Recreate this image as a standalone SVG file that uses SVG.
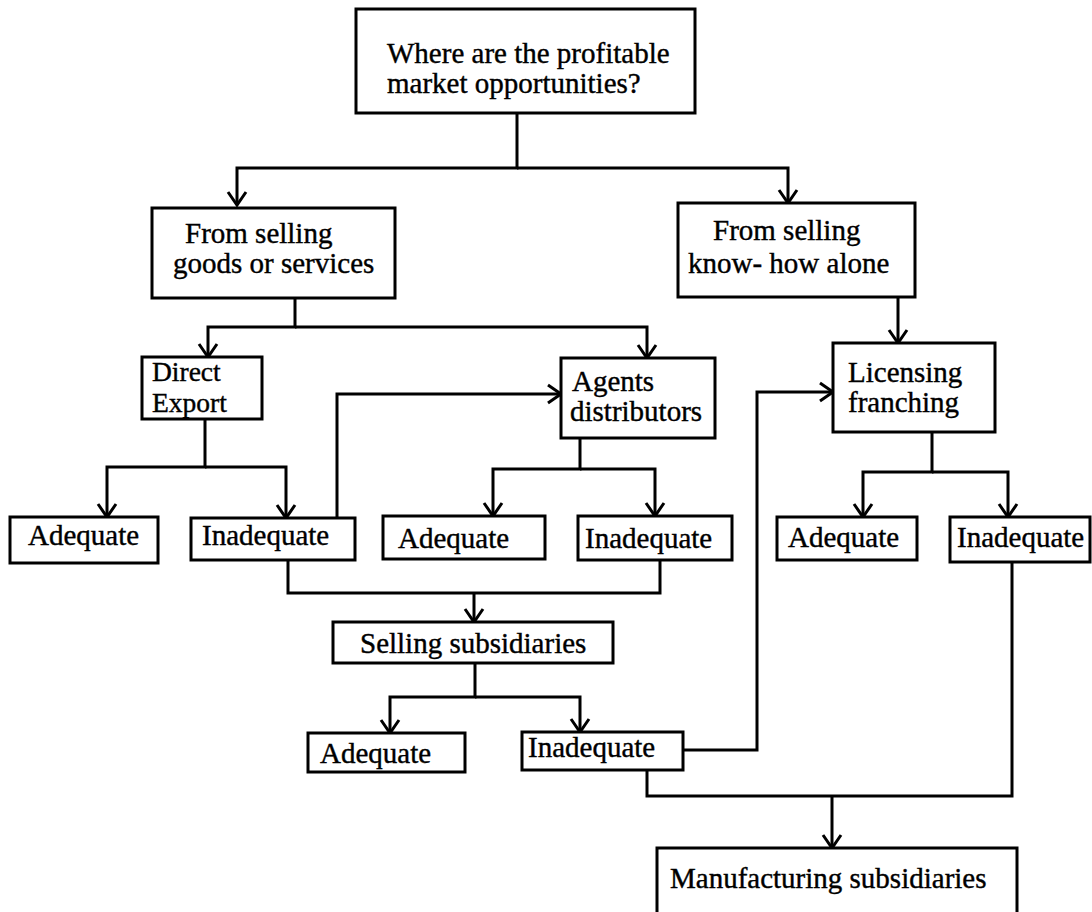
<svg xmlns="http://www.w3.org/2000/svg" width="1092" height="912" viewBox="0 0 1092 912">
  <style>
    .box { fill: #ffffff; stroke: #000000; stroke-width: 3; }
    .lbl { font-family: "Liberation Serif", "Times New Roman", serif; font-size: 29px; fill: #000000; stroke: #000000; stroke-width: 0.4; }
    .tight { font-size: 27.5px; }
    .wire { fill: none; stroke: #000000; stroke-width: 3; stroke-linejoin: miter; }
  </style>
  <defs>
    <marker id="vhead" markerUnits="userSpaceOnUse" markerWidth="30" markerHeight="30" refX="0" refY="0" orient="auto" overflow="visible">
      <path d="M-13,-9 L0,0 L-13,9" fill="none" stroke="#000000" stroke-width="3"/>
    </marker>
  </defs>
  <rect width="1092" height="912" fill="#ffffff"/>

  <!-- connectors -->
  <g id="connectors">
    <path class="wire" d="M517,113 V168 H237 V205" marker-end="url(#vhead)"/>
    <path class="wire" d="M517,168 H788 V203" marker-end="url(#vhead)"/>
    <path class="wire" d="M295,298 V327 H208 V357" marker-end="url(#vhead)"/>
    <path class="wire" d="M295,327 H647 V358" marker-end="url(#vhead)"/>
    <path class="wire" d="M898,297 V343" marker-end="url(#vhead)"/>
    <path class="wire" d="M205,419 V467 H107 V517" marker-end="url(#vhead)"/>
    <path class="wire" d="M205,467 H286 V518" marker-end="url(#vhead)"/>
    <path class="wire" d="M337,518 V394 H561" marker-end="url(#vhead)"/>
    <path class="wire" d="M580,438 V469 H493 V516" marker-end="url(#vhead)"/>
    <path class="wire" d="M580,469 H655 V516" marker-end="url(#vhead)"/>
    <path class="wire" d="M288,560 V593 H660 V560"/>
    <path class="wire" d="M474,593 V622" marker-end="url(#vhead)"/>
    <path class="wire" d="M475,663 V697 H390 V733" marker-end="url(#vhead)"/>
    <path class="wire" d="M475,697 H580 V732" marker-end="url(#vhead)"/>
    <path class="wire" d="M683,750 H757 V392 H833" marker-end="url(#vhead)"/>
    <path class="wire" d="M932,432 V472 H863 V517" marker-end="url(#vhead)"/>
    <path class="wire" d="M932,472 H1008 V517" marker-end="url(#vhead)"/>
    <path class="wire" d="M1012,562 V796 H647 V770"/>
    <path class="wire" d="M832,796 V848" marker-end="url(#vhead)"/>
  </g>

  <!-- nodes -->
  <g id="question">
    <rect class="box" x="356" y="9" width="339" height="104"/>
    <text class="lbl" x="387" y="63">Where are the profitable</text>
    <text class="lbl" x="387" y="93">market opportunities?</text>
  </g>
  <g id="goods">
    <rect class="box" x="152" y="208" width="243" height="90"/>
    <text class="lbl" x="185" y="243">From selling</text>
    <text class="lbl" x="173" y="273">goods or services</text>
  </g>
  <g id="knowhow">
    <rect class="box" x="678" y="203" width="237" height="94"/>
    <text class="lbl" x="713" y="240">From selling</text>
    <text class="lbl" x="688" y="273">know- how alone</text>
  </g>
  <g id="direct-export">
    <rect class="box" x="142" y="357" width="120" height="62"/>
    <text class="lbl tight" x="152" y="381">Direct</text>
    <text class="lbl tight" x="152" y="412">Export</text>
  </g>
  <g id="agents">
    <rect class="box" x="561" y="358" width="154" height="80"/>
    <text class="lbl" x="572" y="391">Agents</text>
    <text class="lbl" x="570" y="421">distributors</text>
  </g>
  <g id="licensing">
    <rect class="box" x="833" y="343" width="162" height="89"/>
    <text class="lbl" x="848" y="382">Licensing</text>
    <text class="lbl" x="848" y="412">franching</text>
  </g>
  <g id="export-adequate">
    <rect class="box" x="10" y="517" width="148" height="46"/>
    <text class="lbl" x="28" y="545">Adequate</text>
  </g>
  <g id="export-inadequate">
    <rect class="box" x="191" y="518" width="164" height="42"/>
    <text class="lbl" x="202" y="545">Inadequate</text>
  </g>
  <g id="agents-adequate">
    <rect class="box" x="383" y="516" width="162" height="43"/>
    <text class="lbl" x="398" y="548">Adequate</text>
  </g>
  <g id="agents-inadequate">
    <rect class="box" x="578" y="516" width="154" height="44"/>
    <text class="lbl" x="585" y="548">Inadequate</text>
  </g>
  <g id="licensing-adequate">
    <rect class="box" x="777" y="517" width="140" height="43"/>
    <text class="lbl" x="788" y="547">Adequate</text>
  </g>
  <g id="licensing-inadequate">
    <rect class="box" x="950" y="517" width="140" height="45"/>
    <text class="lbl" x="957" y="547">Inadequate</text>
  </g>
  <g id="selling-subsidiaries">
    <rect class="box" x="333" y="622" width="280" height="41"/>
    <text class="lbl" x="360" y="653">Selling subsidiaries</text>
  </g>
  <g id="subsidiary-adequate">
    <rect class="box" x="308" y="733" width="157" height="39"/>
    <text class="lbl" x="320" y="763">Adequate</text>
  </g>
  <g id="subsidiary-inadequate">
    <rect class="box" x="522" y="732" width="161" height="38"/>
    <text class="lbl" x="528" y="757">Inadequate</text>
  </g>
  <g id="manufacturing">
    <rect class="box" x="657" y="848" width="360" height="80"/>
    <text class="lbl" x="670" y="888">Manufacturing subsidiaries</text>
  </g>
</svg>
